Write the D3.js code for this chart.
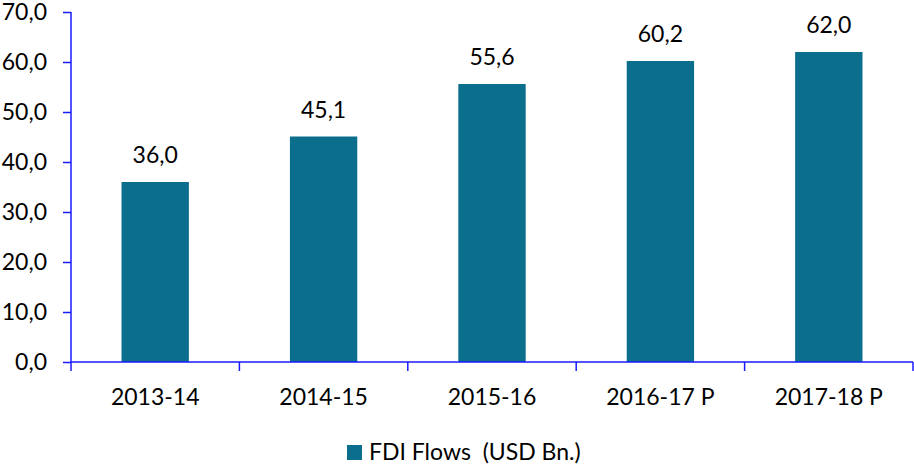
<!DOCTYPE html>
<html>
<head>
<meta charset="utf-8">
<script src="https://cdn.jsdelivr.net/npm/d3@7"></script>
<style>
  body { margin: 0; background: #fff; }
  svg { display: block; font-family: Lato, "Open Sans", sans-serif; }
</style>
</head>
<body>
<div id="chart"></div>
<script>
const categories = ['2013-14', '2014-15', '2015-16', '2016-17 P', '2017-18 P'];
const fdiFlows = [36.0, 45.1, 55.6, 60.2, 62.0];
const yTicks = [0, 10, 20, 30, 40, 50, 60, 70];
const seriesName = 'FDI Flows  (USD Bn.)';

let w = 914, h = 465;
let margin = { left: 71, right: 1, top: 12, bottom: 103 };
let barColor = '#0b6e8c';
let axisColor = '#1a1aff';
let fs = 23;
let fmt = v => v.toFixed(1).replace('.', ',');

let svg = d3.select('#chart').append('svg').attr('width', w).attr('height', h);

let x = d3.scaleBand()
    .domain(categories)
    .range([margin.left, w - margin.right])
    .paddingInner(0.6)
    .paddingOuter(0.3);

let y = d3.scaleLinear().domain([0, 70]).range([h - margin.bottom, margin.top]);

let data = categories.map((c, i) => ({ cat: c, value: fdiFlows[i] }));

// bars
svg.append('g').selectAll('rect').data(data).enter()
    .append('rect')
    .attr('x', d => x(d.cat))
    .attr('y', d => y(d.value))
    .attr('width', x.bandwidth())
    .attr('height', d => y(0) - y(d.value))
    .attr('fill', barColor);

// value labels
svg.append('g').selectAll('text').data(data).enter()
    .append('text')
    .attr('x', d => x(d.cat) + x.bandwidth() / 2)
    .attr('y', d => y(d.value) - 19)
    .attr('text-anchor', 'middle')
    .attr('font-size', fs)
    .attr('fill', '#000')
    .text(d => fmt(d.value));

// y axis
let yAxis = svg.append('g')
    .attr('transform', `translate(${margin.left},0)`)
    .call(d3.axisLeft(y).tickValues(yTicks).tickFormat(fmt).tickSize(8).tickPadding(16));
yAxis.select('.domain').attr('stroke', axisColor).attr('stroke-width', 1.5).attr('d', `M0,${y(70)}V${y(0)}`);
yAxis.selectAll('.tick line').attr('stroke', axisColor).attr('stroke-width', 1.5);
yAxis.selectAll('.tick text').attr('font-size', fs).attr('fill', '#000').attr('font-family', 'Lato, sans-serif');

// x axis
let bounds = d3.range(categories.length + 1).map(i => margin.left + i * (w - margin.left - margin.right) / categories.length);
let xg = svg.append('g');
xg.append('line')
    .attr('x1', margin.left).attr('x2', w - margin.right)
    .attr('y1', y(0)).attr('y2', y(0))
    .attr('stroke', axisColor).attr('stroke-width', 1.5);
xg.selectAll('line.tk').data(bounds).enter()
    .append('line').attr('class', 'tk')
    .attr('x1', d => d).attr('x2', d => d)
    .attr('y1', y(0)).attr('y2', y(0) + 9)
    .attr('stroke', axisColor).attr('stroke-width', 1.5);
xg.selectAll('text').data(categories).enter()
    .append('text')
    .attr('x', d => x(d) + x.bandwidth() / 2)
    .attr('y', y(0) + 43)
    .attr('text-anchor', 'middle')
    .attr('font-size', fs)
    .attr('fill', '#000')
    .text(d => d);

// legend
let legend = svg.append('g').attr('transform', 'translate(347,445)');
legend.append('rect').attr('width', 15).attr('height', 15).attr('fill', barColor);
legend.append('text')
    .attr('x', 22).attr('y', 15)
    .attr('font-size', fs)
    .attr('fill', '#000')
    .attr('xml:space', 'preserve')
    .style('white-space', 'pre')
    .text(seriesName);
</script>
</body>
</html>
